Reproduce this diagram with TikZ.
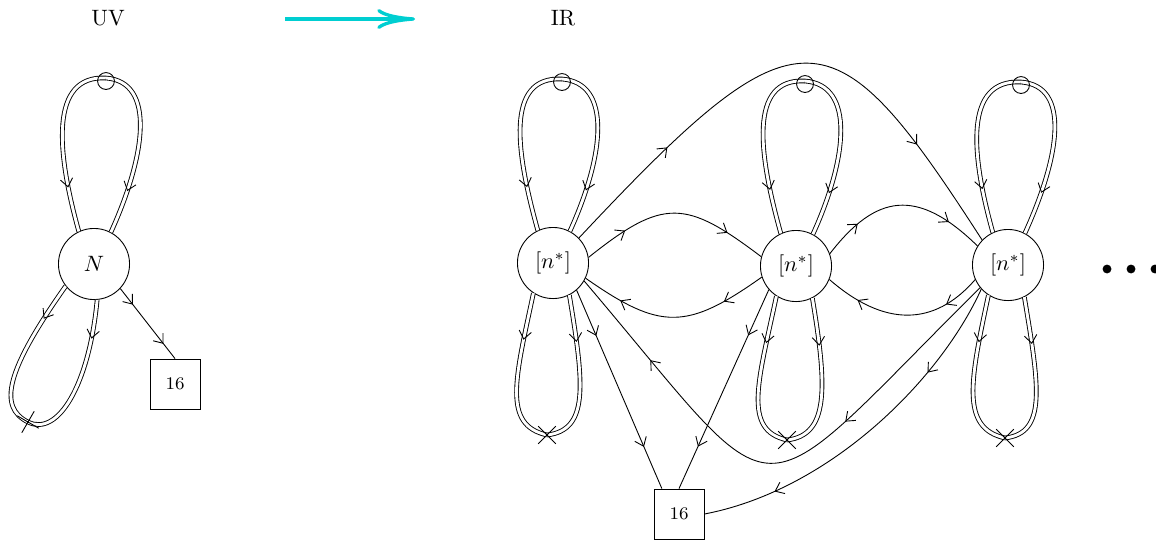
\documentclass[tikz,border=0pt]{standalone}
\usepackage{amsmath,amssymb}
\usepackage{tikz}
\usetikzlibrary{arrows.meta,shapes.misc,decorations.markings,positioning,calc}
\definecolor{flowcyan}{RGB}{0,206,209}

\begin{document}
\begin{tikzpicture}[x=0.45pt,y=-0.45pt,
	>={Straight Barb[length=3.6pt,width=5.6pt]},
	every node/.style={inner sep=0pt},
	blob/.style={circle,draw,minimum size=32pt},
	box/.style={rectangle,draw,minimum size=22.5pt,font=\footnotesize},
	vert/.style={circle,draw,minimum size=7.6pt},
	cross/.style={cross out,draw,minimum size=7.5pt},
	dot/.style={circle,fill,minimum size=4pt},
	prop/.style={preaction={draw,double,double distance=1.3pt}},
	arr/.style={postaction={decorate,decoration={markings,
		mark=at position #1 with {\arrow{>}}}}},
	arrs/.style={postaction={decorate,decoration={markings,
		mark=at position 0.23 with {\arrow{>}},
		mark=at position 0.79 with {\arrow{>}}}}},
	flow/.style={draw=flowcyan,line width=1.5pt,-{To[length=17pt,width=9pt]}}]
	\useasboundingbox (0,0) rectangle (1156,542);

	% UV side
	\node (uv) at (108,18) {UV};
	\node (N) [blob] at (94,264) {$N$};
	\node (sN) [box] at (175,384) {16};
	\coordinate (tN) at (106,78);
	\coordinate (xN) at (28,422);

	% flow arrow
	\coordinate (flowL) at (285,19);
	\coordinate (flowR) at (415,19);
	\draw[flow] (flowL) -- (flowR);

	% IR side
	\node (ir) at (563,18) {IR};
	\node (A) [blob] at (553,263) {$[n^*]$};
	\node (B) [blob] at (796,266) {$[n^*]$};
	\node (C) [blob] at (1008,265) {$[n^*]$};
	\node (D) [box] at (679,514) {16};
	\coordinate (tA) at (562,79);
	\coordinate (tB) at (805,81);
	\coordinate (tC) at (1021,82);
	\coordinate (xA) at (547,435);
	\coordinate (xB) at (787,440);
	\coordinate (xC) at (1005,438);
	\node (d1) [dot] at (1107,269) {};
	\node (d2) [dot] at (1131,269) {};
	\node (d3) [dot] at (1155,269) {};

	% loops of N
	\path[prop,arr=0.75] (tN) .. controls +(-57,-3) and +(-22,-79) .. (N.115);
	\path[prop,arr=0.75] (tN) .. controls +(50,4) and +(35,-77) .. (N.62);
	\path[prop,arr=0.25] (N.218) .. controls +(-60,85) and +(-30,-15) .. (xN);
	\path[prop,arr=0.25] (N.275) .. controls +(-8,85) and +(30,15) .. (xN);
	\draw[arrs] (N.317) -- (sN.north);

	% loops of the [n^*]
	\path[prop,arr=0.75] (tA) .. controls +(-57,-3) and +(-22,-79) .. (A.115);
	\path[prop,arr=0.75] (tA) .. controls +(50,4) and +(35,-77) .. (A.62);
	\path[prop,arr=0.3] (A.237) .. controls +(-18,85) and +(-45,-10) .. (xA);
	\path[prop,arr=0.3] (A.297) .. controls +(15,90) and +(42,-5) .. (xA);

	\path[prop,arr=0.75] (tB) .. controls +(-57,-3) and +(-22,-79) .. (B.115);
	\path[prop,arr=0.75] (tB) .. controls +(50,4) and +(35,-77) .. (B.62);
	\path[prop,arr=0.3] (B.237) .. controls +(-18,85) and +(-45,-10) .. (xB);
	\path[prop,arr=0.3] (B.297) .. controls +(15,90) and +(42,-5) .. (xB);

	\path[prop,arr=0.75] (tC) .. controls +(-57,-3) and +(-22,-79) .. (C.115);
	\path[prop,arr=0.75] (tC) .. controls +(50,4) and +(35,-77) .. (C.62);
	\path[prop,arr=0.3] (C.237) .. controls +(-18,85) and +(-45,-10) .. (xC);
	\path[prop,arr=0.3] (C.297) .. controls +(15,90) and +(42,-5) .. (xC);

	% vertices on top of the double lines
	\node (vN) [vert] at ($(tN)+(0,3)$) {};
	\node (vA) [vert] at ($(tA)+(0,3)$) {};
	\node (vB) [vert] at ($(tB)+(0,3)$) {};
	\node (vC) [vert] at ($(tC)+(0,3)$) {};
	\node (cN) [cross,rotate=15] at (xN) {};
	\node (cA) [cross] at (xA) {};
	\node (cB) [cross] at (xB) {};
	\node (cC) [cross] at (xC) {};

	% links
	\draw[arrs] (A.44) .. controls (800,2) and (832,7) .. (C.136);
	\draw[arrs] (A.9) .. controls (664,197) and (686,200) .. (B.165);
	\draw[arrs] (B.198) .. controls (687,330) and (661,331) .. (A.335);
	\draw[arrs] (B.20) .. controls (876,194) and (917,187) .. (C.148);
	\draw[arrs] (C.204) .. controls (934,327) and (884,327) .. (B.338);
	\draw[arr=0.35,arr=0.81] (C.219) .. controls (743,523) and (790,523) .. (A.330);
	\draw[arr=0.27,arr=0.8] (C.222) .. controls (940,380) and (830,490) .. (D.east);
	\draw[arrs] (A.311) -- (D.124);
	\draw[arrs] (B.221) -- (D.north);
\end{tikzpicture}
\end{document}
